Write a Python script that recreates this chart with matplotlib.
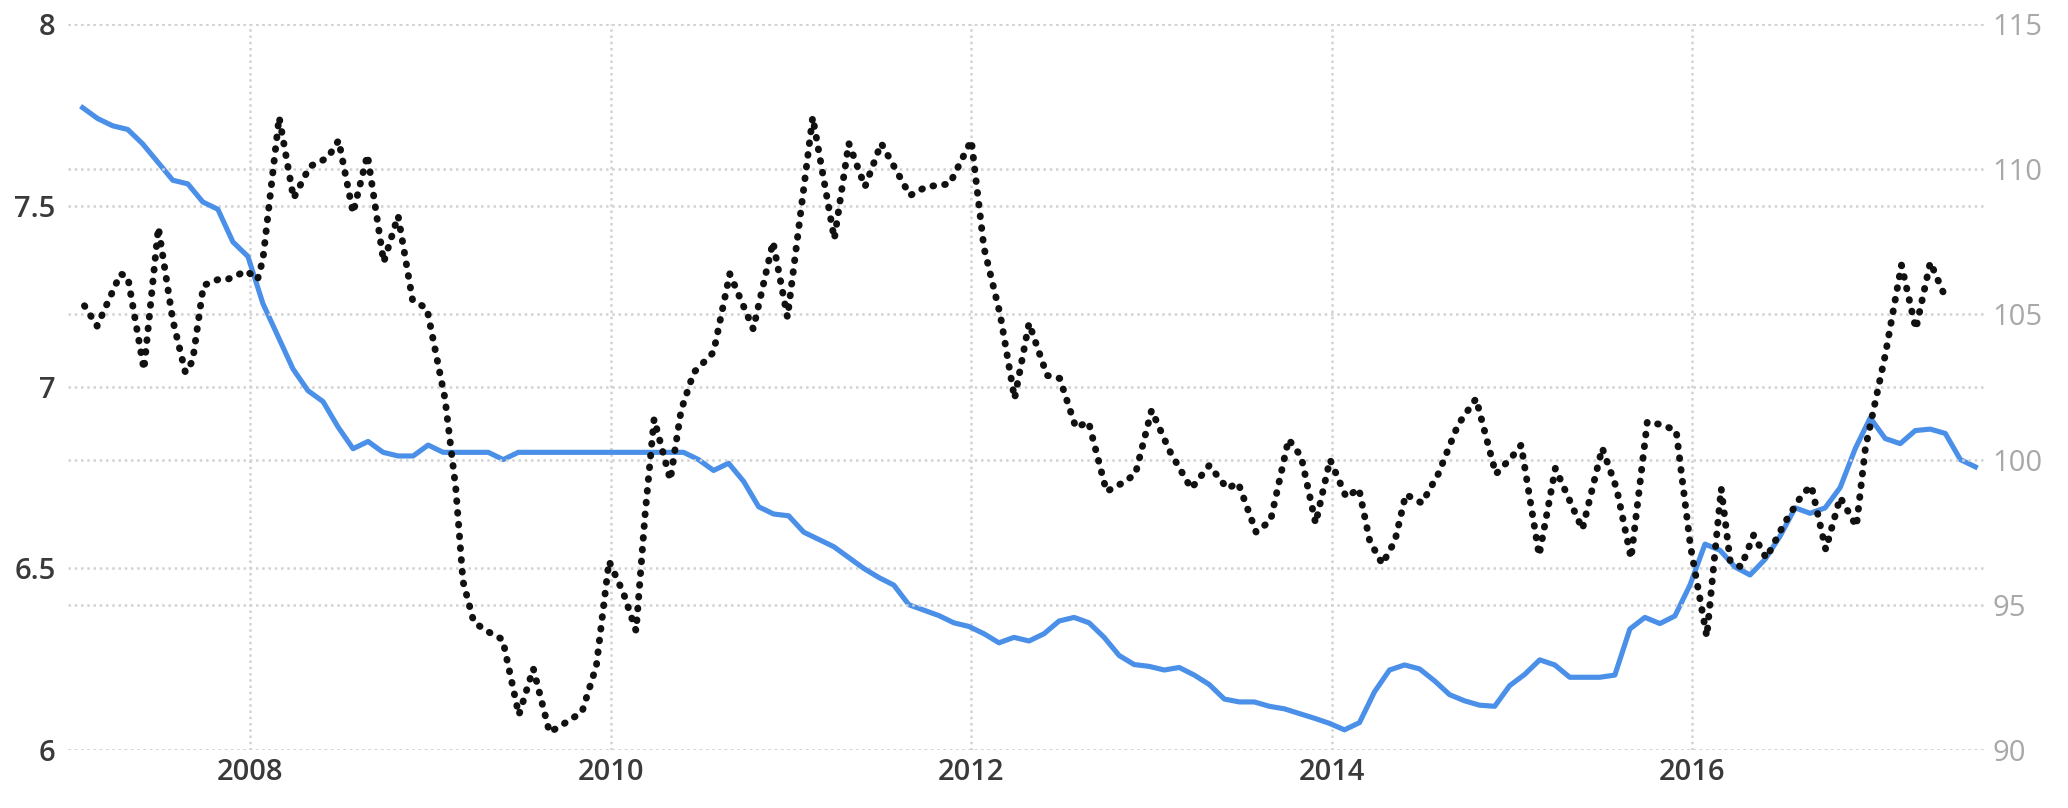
import matplotlib
matplotlib.use("Agg")
import matplotlib.pyplot as plt
import numpy as np

# blue line, left axis, monthly from early 2007
blue_start = 2007.07
blue_vals = [7.77, 7.74, 7.72, 7.71, 7.67, 7.62, 7.57, 7.56, 7.51, 7.49, 7.40, 7.36,
             7.23, 7.14, 7.05, 6.99, 6.96, 6.89, 6.83, 6.85, 6.82, 6.81, 6.81, 6.84,
             6.82, 6.82, 6.82, 6.82, 6.80, 6.82, 6.82, 6.82, 6.82, 6.82, 6.82, 6.82,
             6.82, 6.82, 6.82, 6.82, 6.82, 6.80, 6.77, 6.79, 6.74, 6.67, 6.65, 6.645,
             6.60, 6.58, 6.56, 6.53, 6.50, 6.475, 6.454, 6.40, 6.385, 6.37, 6.35, 6.34,
             6.32, 6.295, 6.31, 6.30, 6.32, 6.355, 6.365, 6.35, 6.31, 6.26, 6.235, 6.23,
             6.22, 6.227, 6.206, 6.18, 6.14, 6.132, 6.132, 6.12, 6.113, 6.10, 6.087, 6.073,
             6.055, 6.075, 6.16, 6.22, 6.234, 6.223, 6.19, 6.152, 6.135, 6.123, 6.12, 6.177,
             6.208, 6.248, 6.234, 6.20, 6.20, 6.20, 6.206, 6.333, 6.365, 6.348, 6.369, 6.454,
             6.567, 6.55, 6.504, 6.482, 6.525, 6.589, 6.667, 6.652, 6.667, 6.723, 6.83, 6.915,
             6.858, 6.844, 6.88, 6.884, 6.872, 6.80, 6.78]

# black dotted line, right axis
black_t = [2007.08, 2007.15, 2007.28, 2007.32, 2007.41, 2007.49, 2007.57, 2007.64, 2007.68, 2007.74,
           2007.82, 2007.87, 2007.98, 2008.04, 2008.07, 2008.16, 2008.24, 2008.33, 2008.43, 2008.49,
           2008.57, 2008.65, 2008.74, 2008.82, 2008.90, 2008.98, 2009.08, 2009.14, 2009.18, 2009.24,
           2009.31, 2009.40, 2009.49, 2009.57, 2009.66, 2009.74, 2009.84, 2009.92, 2009.99, 2010.07,
           2010.14, 2010.19, 2010.24, 2010.33, 2010.39, 2010.46, 2010.57, 2010.66, 2010.79, 2010.90,
           2010.98, 2011.12, 2011.24, 2011.32, 2011.41, 2011.50, 2011.66, 2011.75, 2011.88, 2012.00,
           2012.07, 2012.16, 2012.24, 2012.32, 2012.42, 2012.49, 2012.58, 2012.65, 2012.75, 2012.84,
           2012.91, 2013.00, 2013.10, 2013.22, 2013.32, 2013.42, 2013.48, 2013.58, 2013.66, 2013.76,
           2013.83, 2013.91, 2013.99, 2014.08, 2014.15, 2014.21, 2014.28, 2014.35, 2014.41, 2014.50,
           2014.59, 2014.70, 2014.80, 2014.91, 2015.00, 2015.05, 2015.15, 2015.24, 2015.39, 2015.50,
           2015.58, 2015.66, 2015.75, 2015.83, 2015.91, 2015.99, 2016.08, 2016.16, 2016.21, 2016.27,
           2016.34, 2016.41, 2016.51, 2016.61, 2016.66, 2016.74, 2016.82, 2016.91, 2016.96, 2017.07,
           2017.16, 2017.24, 2017.32, 2017.41]
black_vals = [105.3, 104.6, 106.4, 106.3, 103.1, 108.0, 104.8, 103.0, 103.4, 106.0,
              106.2, 106.2, 106.5, 106.2, 106.9, 111.8, 109.0, 110.1, 110.4, 111.0,
              108.5, 110.5, 106.8, 108.4, 105.5, 105.2, 102.1, 99.0, 95.8, 94.4,
              94.1, 93.8, 91.2, 92.8, 90.6, 90.9, 91.3, 92.9, 96.5, 95.4,
              94.1, 98.1, 101.4, 99.3, 101.7, 103.0, 103.7, 106.4, 104.5, 107.5,
              104.9, 111.8, 107.6, 110.9, 109.4, 110.9, 109.1, 109.4, 109.5, 111.0,
              107.3, 105.0, 102.1, 104.7, 102.9, 102.8, 101.1, 101.3, 98.9, 99.2,
              99.5, 101.7, 100.3, 99.0, 99.8, 99.0, 99.2, 97.5, 97.9, 100.7,
              100.1, 97.8, 100.0, 98.7, 99.0, 97.2, 96.4, 97.2, 98.8, 98.5,
              99.5, 101.2, 102.1, 99.5, 100.1, 100.5, 96.7, 99.7, 97.6, 100.4,
              99.0, 96.6, 101.3, 101.2, 101.0, 97.0, 93.9, 99.0, 96.5, 96.3,
              97.4, 96.6, 97.8, 98.8, 99.1, 96.9, 98.7, 97.7, 100.4, 103.6,
              106.7, 104.5, 106.8, 105.5]

left_ticks = [6, 6.5, 7, 7.5, 8]
left_labels = ["6", "6.5", "7", "7.5", "8"]
right_ticks = [90, 95, 100, 105, 110, 115]
year_ticks = [2008, 2010, 2012, 2014, 2016]

plt.rcParams['font.family'] = ['Open Sans', 'DejaVu Sans']

fig = plt.figure(figsize=(20.68, 8.08), dpi=100)
ax = fig.add_axes([0.033, 0.072, 0.927, 0.898])
ax2 = ax.twinx()

blue_t = blue_start + np.arange(len(blue_vals)) / 12.0

# grid for both axes
grid_kw = dict(color="#d2d2d2", linestyle=(0, (1, 1.5)), linewidth=1.8)
ax.grid(True, axis="y", **grid_kw)
ax.grid(True, axis="x", **grid_kw)
ax2.grid(True, axis="y", **grid_kw)

ax.plot(blue_t, blue_vals, color="#4a8fe8", linewidth=3.7, solid_joinstyle="round", zorder=3)
ax2.plot(black_t, black_vals, color="#111111", linewidth=5.0,
         linestyle=(0, (0.1, 1.6)), dash_capstyle="round", zorder=4)

ax.set_zorder(2)
ax2.set_zorder(3)
ax.patch.set_visible(False)

ax.set_xlim(2006.99, 2017.625)
ax.set_ylim(6, 8)
ax2.set_ylim(90, 115)
ax.set_xticks(year_ticks)
ax.set_xticklabels([str(y) for y in year_ticks])
ax.set_yticks(left_ticks)
ax.set_yticklabels(left_labels)
ax2.set_yticks(right_ticks)

for a in (ax, ax2):
    for s in a.spines.values():
        s.set_visible(False)

ax.tick_params(axis="y", length=0, pad=9, labelsize=21, labelcolor="#3a3a3a")
ax.tick_params(axis="x", length=0, pad=6, labelsize=21, labelcolor="#3a3a3a")
ax2.tick_params(axis="y", length=0, pad=5, labelsize=21, labelcolor="#a8a8a8")
for lab in ax.get_xticklabels() + ax.get_yticklabels():
    lab.set_fontweight("semibold")

fig.savefig("out.png", dpi=100)
